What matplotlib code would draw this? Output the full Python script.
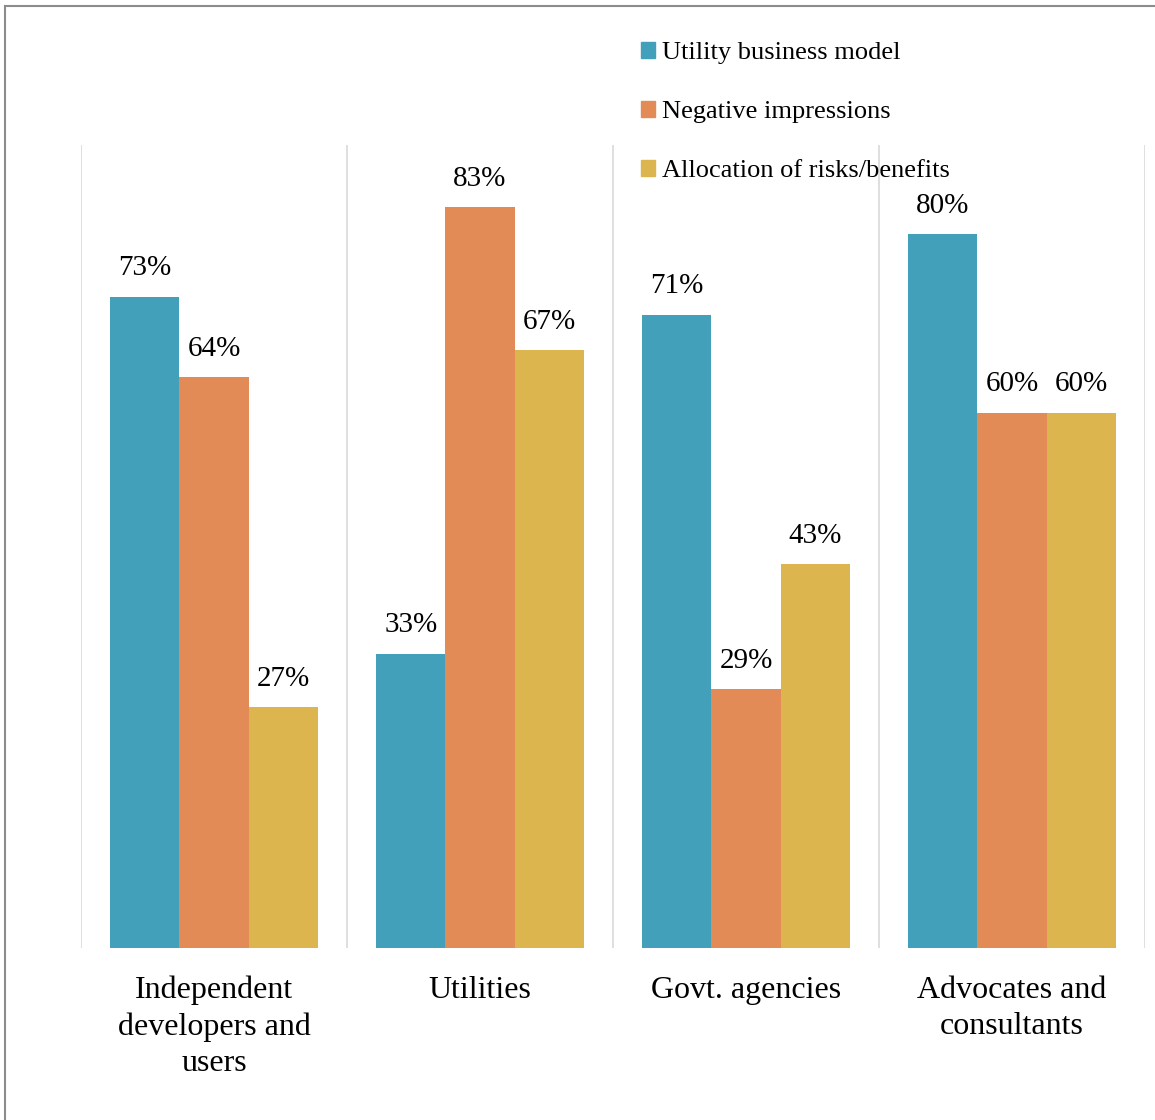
import matplotlib.pyplot as plt
import numpy as np
from matplotlib.patches import Patch
from matplotlib.lines import Line2D

plt.rcParams['font.family'] = ['Liberation Serif', 'DejaVu Serif']

categories = ['Independent\ndevelopers and\nusers', 'Utilities', 'Govt. agencies', 'Advocates and\nconsultants']
series = ['Utility business model', 'Negative impressions', 'Allocation of risks/benefits']
utility_model = [73, 33, 71, 80]
negative = [64, 83, 29, 60]
allocation = [27, 67, 43, 60]
colors = ['#43A0BA', '#E38B57', '#DCB54F']

W, H = 1155, 1120
fig = plt.figure(figsize=(W / 100, H / 100), dpi=100)
ax = fig.add_axes([81 / W, 1 - 948 / H, (1145 - 81) / W, (948 - 145) / H])

x = np.arange(len(categories))
bw = 0.26
for i, (vals, col) in enumerate(zip([utility_model, negative, allocation], colors)):
    pos = x + (i - 1) * bw
    ax.bar(pos, vals, width=bw, color=col, label=series[i])
    for p, v in zip(pos, vals):
        ax.annotate(f'{v}%', (p, v), xytext=(0, 11), textcoords='offset points',
                    ha='center', va='bottom', fontsize=21)

ax.set_xlim(-0.5, len(categories) - 0.5)
ax.set_ylim(0, 90)
for b in np.arange(len(categories) + 1) - 0.5:
    ax.axvline(b, color='#d9d9d9', lw=1.2, zorder=0)
for s in ax.spines.values():
    s.set_visible(False)
ax.set_yticks([])
ax.set_xticks(x)
ax.set_xticklabels(categories, fontsize=23, linespacing=1.33)
ax.tick_params(axis='x', length=0, pad=20)

handles = [Patch(color=c) for c in colors]
fig.legend(handles, series, loc='upper left', bbox_to_anchor=(617 / W, 1 - 18 / H),
           frameon=False, fontsize=19, handlelength=0.55, handleheight=0.55,
           handletextpad=0.25, labelspacing=1.4)

# frame edge at top/left
fig.add_artist(Line2D([5 / W, 5 / W], [0, 1 - 6 / H], color='#8c8c8c', lw=1.5))
fig.add_artist(Line2D([5 / W, 1], [1 - 6 / H, 1 - 6 / H], color='#8c8c8c', lw=1.5))

fig.savefig('out.png', dpi=100)
